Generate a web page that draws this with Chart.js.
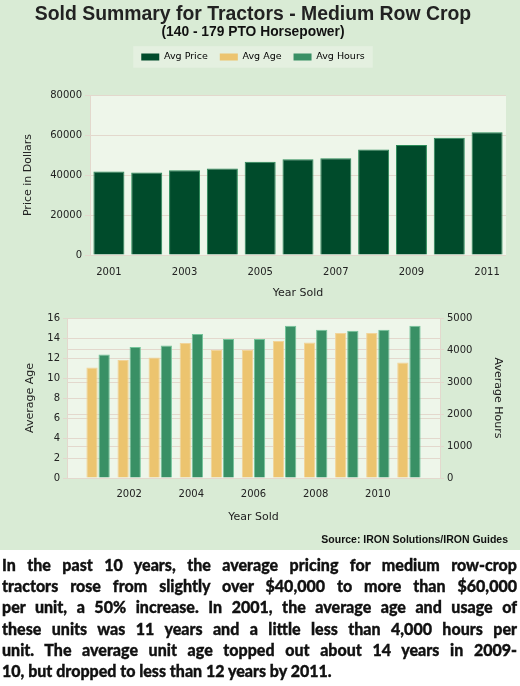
<!DOCTYPE html>
<html>
<head>
<meta charset="utf-8">
<script src="https://cdn.jsdelivr.net/npm/chart.js@4.4.1/dist/chart.umd.min.js"></script>
<style>
  html, body { margin: 0; padding: 0; }
  body { width: 520px; height: 686px; position: relative; background: #fff; overflow: hidden; }
  #panel { position: absolute; left: 0; top: 0; width: 520px; height: 550px; background: #d9ebd5; }
  #top { position: absolute; left: 0; top: 0; }
  #bottom { position: absolute; left: 0; top: 300px; }
  #source { position: absolute; right: 12px; top: 533px; font: bold 10.5px "Liberation Sans Narrow", "Liberation Sans", sans-serif; color: #111; }
  #text { position: absolute; left: 2px; top: 554px; width: 515px; font-family: Lato, sans-serif; font-weight: 900; font-size: 16px; line-height: 21.2px; color: #111; -webkit-text-stroke: 0.35px #111; }
  #text div { text-align: justify; text-align-last: justify; }
  #text div.last { text-align-last: left; }
</style>
</head>
<body>
<div id="panel"></div>
<canvas id="top" width="520" height="302"></canvas>
<canvas id="bottom" width="520" height="230"></canvas>
<div id="source">Source: IRON Solutions/IRON Guides</div>
<div id="text">
  <div>In the past 10 years, the average pricing for medium row-crop</div>
  <div>tractors rose from slightly over $40,000 to more than $60,000</div>
  <div>per unit, a 50% increase. In 2001, the average age and usage of</div>
  <div>these units was 11 years and a little less than 4,000 hours per</div>
  <div>unit. The average unit age topped out about 14 years in 2009-</div>
  <div class="last">10, but dropped to less than 12 years by 2011.</div>
</div>
<script>
// data
const years = [2001, 2002, 2003, 2004, 2005, 2006, 2007, 2008, 2009, 2010, 2011];
const avgPrice = [41700, 41200, 42400, 43200, 46600, 47900, 48400, 52700, 55000, 58600, 61400];
const avgAge = [11.05, 11.8, 12.05, 13.5, 12.8, 12.8, 13.7, 13.55, 14.5, 14.5, 11.55];
const avgHours = [3860, 4090, 4140, 4500, 4340, 4340, 4760, 4630, 4600, 4630, 4760];
const seriesNames = ["Avg Price", "Avg Age", "Avg Hours"];

const priceColor = "#004b2b";
const ageColor = "#ecc46f";
const hoursColor = "#399065";
const gridColor = "#e3d8cd";

Chart.defaults.font.family = "'DejaVu Sans', sans-serif";
Chart.defaults.font.size = 10;
Chart.defaults.color = "#222";
Chart.defaults.animation = false;

const plainNumber = v => String(v);

// light plot background + legend box
const plotBg = {
  id: "plotBg",
  beforeDraw(chart) {
    const { ctx, chartArea: a } = chart;
    ctx.save();
    const lg = chart.legend;
    if (lg && lg.legendHitBoxes && lg.legendHitBoxes.length) {
      const hb = lg.legendHitBoxes;
      const l = Math.min(...hb.map(h => h.left)) - 8;
      const r = Math.max(...hb.map(h => h.left + h.width)) + 8;
      const t = hb[0].top - 6;
      const b = hb[0].top + hb[0].height + 6;
      ctx.fillStyle = "#e4f0e0";
      ctx.fillRect(l, t, r - l, b - t);
    }
    ctx.fillStyle = "#eef6ea";
    ctx.fillRect(a.left, a.top, a.width, a.height);
    ctx.restore();
  }
};

// top chart: price
new Chart(document.getElementById("top"), {
  type: "bar",
  data: {
    labels: years,
    datasets: [{
      label: seriesNames[0],
      data: avgPrice,
      backgroundColor: priceColor,
      borderColor: "#2a8a58",
      borderWidth: 1,
      barPercentage: 0.82,
      categoryPercentage: 1.0
    }]
  },
  options: {
    responsive: false,
    layout: { padding: { left: 0, right: 14, top: 0, bottom: 0 } },
    plugins: {
      title: {
        display: true,
        text: "Sold Summary for Tractors - Medium Row Crop",
        color: "#222",
        font: { family: "'Liberation Sans', Arial, sans-serif", size: 19.4, weight: "bold", lineHeight: 1 },
        padding: { top: 5, bottom: 0 }
      },
      subtitle: {
        display: true,
        text: "(140 - 179 PTO Horsepower)",
        color: "#111",
        font: { family: "'Liberation Sans', Arial, sans-serif", size: 13.8, weight: "bold", lineHeight: 1 },
        padding: { top: 1, bottom: 1 }
      },
      legend: {
        display: true,
        position: "top",
        onClick: null,
        labels: {
          boxWidth: 18,
          boxHeight: 7,
          padding: 12,
          color: "#333",
          font: { size: 9.5 },
          generateLabels: () => seriesNames.map((name, i) => ({
            text: name,
            fillStyle: [priceColor, ageColor, hoursColor][i],
            strokeStyle: [priceColor, ageColor, hoursColor][i],
            lineWidth: 0,
            hidden: false,
            datasetIndex: 0
          }))
        }
      },
      tooltip: { enabled: false }
    },
    scales: {
      x: {
        grid: { display: false, drawTicks: false },
        border: { display: false },
        ticks: {
          autoSkip: false,
          maxRotation: 0,
          padding: 11,
          callback: (v, i) => (i % 2 === 0 ? years[i] : "")
        },
        title: { display: true, text: "Year Sold", font: { size: 11 }, padding: { top: 0, bottom: 2.4 } },
        afterFit: s => { s.height = 47; }
      },
      spacer: {
        type: "category",
        position: "top",
        grid: { display: false, drawTicks: false },
        border: { display: false },
        ticks: { display: false },
        afterFit: s => { s.height = 23.3; }
      },
      y: {
        min: 0,
        max: 80000,
        ticks: { stepSize: 20000, padding: 3, callback: plainNumber },
        grid: { color: gridColor, tickLength: 5 },
        border: { color: gridColor },
        title: { display: true, text: "Price in Dollars", font: { size: 11 }, padding: { top: 21.4, bottom: 0 } },
        afterFit: s => { s.width = 90; }
      }
    }
  },
  plugins: [plotBg]
});

// bottom chart: age and hours; one empty slot on each side of the years
const axisYears = [years[0] - 1, ...years, years[years.length - 1] + 1];
new Chart(document.getElementById("bottom"), {
  type: "bar",
  data: {
    labels: axisYears,
    datasets: [
      {
        label: seriesNames[1],
        data: [null, ...avgAge, null],
        backgroundColor: ageColor,
        borderColor: "#f1d49a",
        borderWidth: 1,
        yAxisID: "y",
        barPercentage: 0.93,
        categoryPercentage: 0.78
      },
      {
        label: seriesNames[2],
        data: [null, ...avgHours, null],
        backgroundColor: hoursColor,
        borderColor: "#74c49a",
        borderWidth: 1,
        yAxisID: "y2",
        barPercentage: 0.93,
        categoryPercentage: 0.78
      }
    ]
  },
  options: {
    responsive: false,
    layout: { padding: { left: 0, right: 0, top: 18, bottom: 0 } },
    plugins: { legend: { display: false }, tooltip: { enabled: false } },
    scales: {
      x: {
        offset: false,
        grid: { display: false, drawTicks: false },
        border: { color: gridColor },
        ticks: {
          autoSkip: false,
          maxRotation: 0,
          padding: 10,
          callback: (v, i) => {
            const yr = axisYears[i];
            return (i > 0 && i < axisYears.length - 1 && yr % 2 === 0) ? yr : "";
          }
        },
        title: { display: true, text: "Year Sold", font: { size: 11 }, padding: { top: 0, bottom: 6.4 } },
        afterFit: s => { s.height = 52; }
      },
      y: {
        position: "left",
        min: 0,
        max: 16,
        ticks: { stepSize: 2, padding: 3, callback: plainNumber },
        grid: { color: gridColor, tickLength: 4 },
        border: { color: gridColor },
        title: { display: true, text: "Average Age", font: { size: 11 }, padding: { top: 23.4, bottom: 0 } },
        afterFit: s => { s.width = 67; }
      },
      y2: {
        position: "right",
        min: 0,
        max: 5000,
        ticks: { stepSize: 1000, padding: 3, callback: plainNumber },
        grid: { color: gridColor, tickLength: 4 },
        border: { color: gridColor },
        title: { display: true, text: "Average Hours", font: { size: 11 }, padding: { top: 15.4, bottom: 0 } },
        afterFit: s => { s.width = 80; }
      }
    }
  },
  plugins: [plotBg]
});
</script>
</body>
</html>
